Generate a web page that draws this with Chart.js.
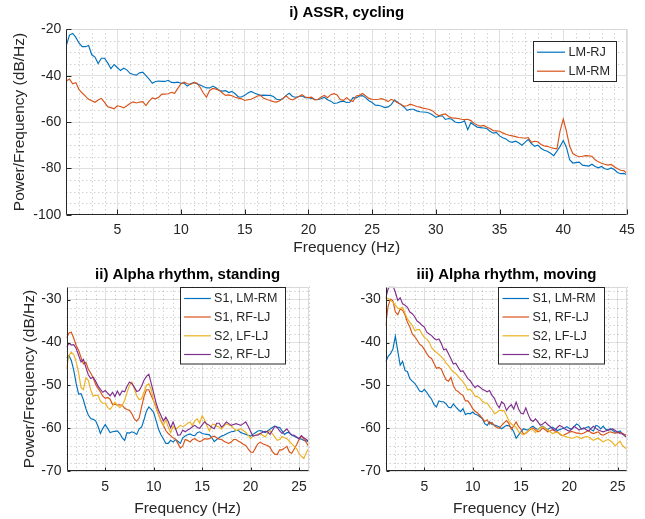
<!DOCTYPE html>
<html><head><meta charset="utf-8">
<script src="https://cdn.jsdelivr.net/npm/chart.js@4.4.0/dist/chart.umd.min.js"></script>
<style>
html,body{margin:0;padding:0;background:#fff;width:645px;height:519px;overflow:hidden}
canvas{position:absolute;display:block}
</style></head><body>
<canvas id="c1" width="645" height="262" style="left:0;top:0"></canvas>
<canvas id="c2" width="322" height="264" style="left:0;top:255px"></canvas>
<canvas id="c3" width="323" height="264" style="left:322px;top:255px"></canvas>
<script>
// ---------------- DATA ----------------
const FREQ_START = 1;
const FREQ_STEP = 0.25;

const TOP_LABELS = ['LM-RJ', 'LM-RM'];
const TOP_X_TICKS = [5, 10, 15, 20, 25, 30, 35, 40, 45];
const TOP_Y_TICKS = [-100, -80, -60, -40, -20];

const TOP_LMRJ = [
  -27, -22.5, -21.8, -23.5,  -26, -27.5, -27.5, -27,  -31, -32, -34.8, -32.5,
  -32.5, -34.5, -37, -35.2,  -36.5, -37.8, -36.8, -37.5,  -39, -39.5, -39.8, -38.8,
  -38.5, -40, -41.5, -43.3,  -42.5, -42.3, -42.5, -42.5,  -42, -42.9, -43, -42.8,
  -43.3, -43.3, -44.5, -43.5,  -43, -43.5, -44, -44.7,  -45.3, -45.3, -44.5, -45.2,
  -46.4, -46.7, -46.5, -47.3,  -46.8, -47.8, -49.2, -49.2,  -48.5, -47.5, -46.8, -47.5,
  -48, -48.5, -48.4, -48.5,  -48.5, -49, -50.2, -50.4,  -50, -48.5, -47.6, -49,
  -49.3, -49, -48.8, -49.5,  -49.5, -49.8, -50.2, -50.3,  -50, -49.3, -50.4, -51,
  -52, -51.8, -51.2, -51,  -51.6, -51.5, -49.5, -49.6,  -48.8, -48.6, -49.6, -50.8,
  -51.6, -52.7, -52.8, -53.2,  -53.8, -53.5, -52.5, -50.5,  -51.5, -52.5, -53.5, -55,
  -54.5, -54.5, -55.2, -55.6,  -55.7, -55.8, -56.2, -57,  -58, -57.5, -57.3, -58.9,
  -58.5, -58.8, -60, -60.3,  -60.2, -59.5, -63.3, -60.3,  -61.3, -62.2, -62.4, -62.6,
  -62.8, -64, -64.8, -64.5,  -66, -66.8, -67.3, -68.4,  -68.8, -68.3, -69, -70,
  -68.8, -67.5, -69.3, -70.5,  -70, -71.3, -72.2, -72.6,  -73.5, -74.5, -72.6, -70.5,
  -68, -71, -76.3, -77.7,  -77.5, -77.3, -78.6, -78.8,  -79, -78.2, -79.2, -79.8,
  -79.2, -80.2, -80.5, -79.8,  -80.5, -81.8, -82.3, -82.2,  -82.8
];
const TOP_LMRM = [
  -42.3, -41.5, -43.5, -43,  -46, -47.5, -48.8, -50.2,  -50.8, -51.5, -50.5, -49.8,
  -51.5, -53.4, -53.8, -54.3,  -53, -53.3, -53.9, -53,  -52, -51.3, -51.8, -51.4,
  -51.2, -52.9, -51, -49.6,  -50, -49.3, -48, -48,  -47.8, -47.2, -47.6, -45.5,
  -43.5, -42.8, -43.5, -43.8,  -43, -43.2, -45, -47.5,  -49.3, -46.4, -45.5, -45.8,
  -46.3, -47.5, -48.5, -48.3,  -48.7, -49.3, -49.7, -50,  -50.7, -50.4, -50.2, -49.5,
  -48.8, -48.5, -49.8, -50.3,  -50.7, -51.2, -51.4, -50.8,  -49.8, -48.7, -50, -50.5,
  -49.8, -49, -48.2, -49.2,  -49.5, -49.3, -50.5, -50.3,  -49.2, -48.5, -49.5, -48.2,
  -47.8, -48.3, -50.3, -50.7,  -49.5, -50.6, -51.2, -48.8,  -48.5, -47.7, -48.8, -49.8,
  -50.2, -50.3, -50.2, -49.9,  -50.4, -51.2, -50.2, -50.8,  -51.7, -52.3, -53.2, -53,
  -52.3, -52.8, -53.3, -53.6,  -54, -54.3, -54.6, -55.2,  -56.5, -57.3, -56.8, -56.5,
  -57.6, -58.2, -58.3, -58.5,  -58.8, -59, -58.8, -59.4,  -60.6, -61.3, -61.8, -61.5,
  -62.3, -62.8, -63.7, -63.8,  -64, -64.7, -65.3, -65.7,  -66, -66.3, -66.7, -66.8,
  -67, -66.7, -68.8, -68.3,  -68.5, -69.7, -70.3, -70.5,  -71, -71.4, -71.6, -63.8,
  -58.7, -64, -70.5, -73.6,  -74.5, -75, -74.8, -74.5,  -74.6, -74.8, -76.3, -77.2,
  -77.8, -78.2, -78.6, -78.3,  -79.3, -80.2, -80.8, -81,  -82.3
];

const ALPHA_LABELS = ['S1, LM-RM', 'S1, RF-LJ', 'S2, LF-LJ', 'S2, RF-LJ'];
const ALPHA_X_TICKS = [5, 10, 15, 20, 25];
const ALPHA_Y_TICKS = [-70, -60, -50, -40, -30];

const STAND_S1_LMRM = [
  -43.6, -43, -44.2, -46.5,  -49.6, -52, -51.9, -53.4,  -55.4, -56.9, -57.7, -57.9,
  -58.2, -59.5, -61.2, -60,  -59.1, -60, -61, -60.8,  -60.7, -60.6, -61.2, -62.2,
  -62.8, -61, -61.1, -60.8,  -61, -61.4, -60.1, -59.7,  -58, -56, -55, -55.6,
  -56.3, -58.2, -60.2, -61.5,  -62.4, -63.5, -63.5, -62.8,  -63.2, -62.6, -63, -63.5,
  -62.2, -61.8, -61.5, -61.3,  -61.6, -61.7, -61, -60.8,  -61.2, -61.3, -61.4, -61.5,
  -62.2, -63.1, -62.6, -62.2,  -61.8, -61.6, -61.3, -61,  -60.8, -60.7, -60.5, -60.5,
  -61, -61.2, -61.4, -61.6,  -61.8, -61.4, -61, -60.6,  -60.5, -60.7, -61, -60.6,
  -60.2, -59.8, -59.5, -59.7,  -59.8, -60.6, -61.4, -61,  -61, -61.6, -61.8, -62.1,
  -62.4, -62.5, -62.8, -62.9,  -63.2
];
const STAND_S1_RFLJ = [
  -39, -37.8, -37.6, -39,  -40.7, -41.8, -43.5, -45,  -44.6, -46.2, -47.1, -48.2,
  -49.7, -50.7, -51.5, -52.5,  -53, -52.8, -53.2, -54.4,  -54.4, -54.6, -54.5, -54.6,
  -55.3, -55.6, -55.8, -56.6,  -57.8, -58.3, -57.6, -55,  -52.6, -51, -51, -52.4,
  -53.6, -55.1, -56.8, -58.2,  -59.3, -60.5, -61.2, -61.7,  -62.2, -62.5, -63.5, -64.6,
  -64.1, -62.6, -62.8, -63.2,  -62.6, -62.4, -62.8, -63.1,  -62.8, -62.4, -62.5, -62.4,
  -62, -61.8, -62.2, -62.5,  -62.6, -63, -63.3, -63.5,  -63.2, -62.6, -62.6, -63,
  -63.3, -63.7, -64, -64.8,  -65.5, -65.6, -64.6, -63.6,  -63.2, -63.6, -63.8, -64,
  -64.4, -65.4, -66, -66.1,  -65, -65, -64.6, -64.2,  -65.5, -65.8, -64.8, -63.8,
  -62.6, -61.8, -62.5, -63.3,  -64.2
];
const STAND_S2_LFLJ = [
  -46.1, -43, -42.3, -42.8,  -44.5, -47, -50.5, -51,  -48.2, -48.8, -51, -52.5,
  -52.3, -52.3, -53.6, -54.2,  -54.1, -55.1, -55.6, -54.8,  -53.9, -54.6, -55.2, -54.6,
  -53.5, -51.6, -50, -49.2,  -50.8, -52.4, -53.3, -53.1,  -51.6, -50, -49.6, -51,
  -53.6, -55.3, -56.8, -58.3,  -59.3, -58, -59.7, -61,  -59.5, -60.3, -59.8, -59.3,
  -59.6, -59.3, -58.8, -58.5,  -59.4, -58.2, -57.8, -58.8,  -57.1, -58, -59.4, -60.6,
  -59.2, -59, -59.5, -59.7,  -60.2, -59.5, -58.9, -59.2,  -59.4, -60, -60.5, -60.3,
  -60.1, -60.5, -60.9, -61.6,  -62.4, -61.8, -61.6, -61.3,  -61.2, -61.6, -62, -61.2,
  -60.5, -61.3, -62, -62.8,  -62.6, -61.9, -62.2, -62.4,  -63, -63.6, -64.2, -64.7,
  -65.9, -66.5, -67, -65.6,  -64.7
];
const STAND_S2_RFLJ = [
  -41.1, -40.2, -40.6, -40.5,  -41.4, -43, -44.5, -43.9,  -45.8, -47.5, -48.4, -48.1,
  -49, -50.1, -50.9, -51.6,  -51.2, -51.8, -52.4, -51.6,  -52.6, -51.3, -52.3, -51.3,
  -51.5, -50.2, -49.2, -49.6,  -50.4, -51.4, -51.2, -50.2,  -48.8, -47.9, -47.4, -49.6,
  -51.8, -54.1, -55.8, -57,  -58.3, -57.4, -58.4, -59.9,  -58.5, -60, -61.6, -61.5,
  -60.4, -60.8, -60.4, -60.1,  -59.6, -59.3, -59.8, -60,  -59.2, -58.5, -59, -59.3,
  -59.8, -60.1, -58.8, -58.8,  -59.7, -59.2, -58.5, -58.9,  -59.3, -59.1, -58.9, -59.1,
  -59.3, -58.9, -58.5, -59.5,  -60.7, -61.8, -61.6, -61.6,  -61.2, -60.9, -60.7, -60.8,
  -61.4, -60.5, -59.5, -59.8,  -60.6, -61.2, -60.6, -60.1,  -61, -61.5, -61.6, -62,
  -62.4, -61.7, -62.2, -62.6,  -63
];

const MOVE_S1_LMRM = [
  -44.6, -43.2, -42.6, -41.5,  -38.5, -42, -45.3, -44.4,  -46.5, -46.8, -48.4, -49,
  -49.5, -50.3, -51.3, -51.5,  -50.9, -51.6, -52.5, -53.2,  -54.5, -55, -53.6, -53.8,
  -53.8, -54.3, -55.1, -55.2,  -54.3, -55, -55.6, -56.1,  -55.4, -56.8, -56.5, -56.6,
  -56.2, -56.7, -56.9, -57.3,  -57.7, -58.9, -59.3, -58.5,  -59.1, -59.2, -59.4, -59.7,
  -60.1, -59.7, -59.3, -59.4,  -59.9, -60.8, -62.3, -61.5,  -60.8, -60.1, -60.3, -60.4,
  -59.8, -59.5, -60, -60.3,  -59.8, -59.5, -59.9, -60.3,  -59.9, -59.7, -60.1, -60.5,
  -60.3, -60.1, -59.9, -59.6,  -60, -60.2, -59.6, -59,  -59.3, -60.2, -60.1, -59.8,
  -59.6, -60.3, -60.6, -59.3,  -59.5, -60.1, -59.5, -60.2,  -60.4, -60.1, -60.5, -60.9,
  -60.8, -60.6, -61.2, -61.5,  -61.6
];
const MOVE_S1_RFLJ = [
  -36, -31.5, -29.9, -30.3,  -32.9, -33.5, -32.2, -32.5,  -33.6, -35.3, -36.4, -38,
  -38.6, -39.4, -40.4, -40.8,  -41.6, -42.6, -43.4, -43.7,  -44.9, -46, -45.8, -46.2,
  -47.5, -48.7, -49, -48.1,  -50, -51.1, -51.4, -52,  -52.3, -53.6, -53.6, -54.4,
  -55.4, -56, -56.4, -57,  -57.6, -58.4, -58, -59,  -58.6, -59.4, -59.8, -60,
  -59.3, -58.7, -58.2, -58.9,  -60.2, -59.4, -58.5, -59.6,  -60.2, -61.3, -61.2, -60.6,
  -60.2, -59.9, -60.4, -60.8,  -60.5, -59.9, -60.3, -60.8,  -60.6, -60.3, -60.6, -60.8,
  -61.3, -61.7, -61.5, -61.2,  -60.9, -60.7, -60.9, -61.1,  -61.1, -61.3, -61.1, -60.8,
  -60.5, -61, -61.2, -61,  -60.8, -61.4, -61.6, -61.3,  -61, -60.8, -61, -61.1,
  -61, -60.9, -61.2, -61.5,  -61.8
];
const MOVE_S2_LFLJ = [
  -29.8, -29.7, -30.2, -30.6,  -31.3, -32, -32.1, -31.8,  -33.2, -34.5, -35.3, -36,
  -37.2, -37, -37, -38,  -38.8, -39.2, -39.9, -41.2,  -41.8, -42.3, -42.8, -43.3,
  -43.9, -44.8, -45.4, -46.2,  -46.9, -47.2, -47.9, -48.6,  -49.1, -50, -51.1, -50.9,
  -51.6, -52.5, -52.6, -53,  -53.7, -54.1, -54.1, -55,  -55.6, -56.6, -56.3, -55.8,
  -55.8, -55.9, -57, -58.3,  -59, -59.4, -59.8, -60.8,  -61.2, -61.5, -61, -60.6,
  -60, -60.4, -61, -60.3,  -59.8, -59.6, -59.9, -60.4,  -60.8, -61.2, -61, -60.9,
  -61.2, -61.6, -61.8, -62,  -62.2, -62.3, -62.2, -61.9,  -62.1, -62.4, -62.1, -61.9,
  -62, -62.4, -62.8, -62.5,  -62.3, -62.7, -63.2, -62.8,  -62.6, -62.9, -63.4, -64.1,
  -63.5, -63, -64, -64.5,  -64.8
];
const MOVE_S2_RFLJ = [
  -29.8, -27.5, -26.7, -26.8,  -28.3, -30.2, -29.6, -31,  -31.3, -31.8, -32.9, -33.3,
  -34, -35, -35.4, -36,  -36.4, -37.6, -38, -38.4,  -39, -39.4, -39.2, -40.2,
  -41.7, -41.5, -42.6, -43.8,  -45, -44.8, -45.8, -46.7,  -46.6, -47.5, -48.4, -48.9,
  -49.8, -50.5, -50, -50.4,  -50.9, -51.2, -51.5, -51.2,  -52.3, -53, -54.4, -55.2,
  -53.8, -54.3, -55.8, -55,  -54.5, -55.5, -53.9, -55.5,  -56.5, -56.6, -55.2, -56.8,
  -58, -58.4, -57.8, -58.5,  -59.3, -59, -58.5, -59.1,  -59.5, -60.1, -60.5, -59.8,
  -59.3, -59.6, -60.1, -60.4,  -60.7, -60.1, -59.5, -59.9,  -60.4, -60.1, -59.9, -60.3,
  -60.6, -60, -59.5, -60,  -60.4, -60.6, -60.8, -60.6,  -60.4, -60.3, -60.1, -60.5,
  -60.9, -61.2, -61.3, -61.8,  -62.2
];

const COLORS = ['#0072BD', '#D95319', '#EDB120', '#7E2F8E'];

// ---------------- RENDERING ----------------
const FONT = "'Liberation Sans', Arial, Helvetica, sans-serif";
const TXT = '#262626';

function pts(arr) { return arr.map((v, i) => ({ x: FREQ_START + i * FREQ_STEP, y: v })); }

const matlabAxes = {
  id: 'matlabAxes',
  beforeDatasetsDraw(chart, args, o) {
    const { ctx, chartArea: a, scales: { x, y } } = chart;
    ctx.save();
    ctx.strokeStyle = 'rgba(38,38,38,0.3)';
    ctx.lineWidth = 1;
    ctx.setLineDash([1, 3]);
    for (let v = Math.ceil(x.min / o.minorX) * o.minorX; v <= x.max + 1e-9; v += o.minorX) {
      if (o.xTicks.includes(v) || Math.abs(v - x.min) < 1e-9) continue;
      const px = Math.round(x.getPixelForValue(v)) + 0.5;
      ctx.beginPath(); ctx.moveTo(px, a.top); ctx.lineTo(px, a.bottom); ctx.stroke();
    }
    for (let v = Math.ceil(y.min / o.minorY) * o.minorY; v <= y.max + 1e-9; v += o.minorY) {
      if (o.yTicks.includes(v) || Math.abs(v - y.min) < 1e-9) continue;
      const py = Math.round(y.getPixelForValue(v)) + 0.5;
      ctx.beginPath(); ctx.moveTo(a.left, py); ctx.lineTo(a.right, py); ctx.stroke();
    }
    ctx.restore();
  },
  afterDatasetsDraw(chart, args, o) {
    const { ctx, chartArea: a, scales: { x, y } } = chart;
    const L = Math.round(a.left) + 0.5, R = Math.round(a.right) - 0.5;
    const T = Math.round(a.top) + 0.5, B = Math.round(a.bottom) - 0.5;
    ctx.save();
    ctx.lineWidth = 1;
    ctx.strokeStyle = '#d9d9d9';
    ctx.beginPath(); ctx.moveTo(L, T); ctx.lineTo(R, T); ctx.lineTo(R, B); ctx.stroke();
    ctx.strokeStyle = TXT;
    ctx.beginPath(); ctx.moveTo(L, T); ctx.lineTo(L, B); ctx.lineTo(R, B); ctx.stroke();
    // inward tick marks
    ctx.beginPath();
    o.xTicks.forEach(v => { const px = Math.round(x.getPixelForValue(v)) + 0.5; ctx.moveTo(px, B); ctx.lineTo(px, B - o.tickLen); });
    o.yTicks.forEach(v => { const py = Math.round(y.getPixelForValue(v)) + 0.5; ctx.moveTo(L, py); ctx.lineTo(L + o.tickLen, py); });
    ctx.stroke();
    // legend box
    const g = o.legend;
    const bx = Math.round(a.right - g.right - g.width) + 0.5;
    const by = Math.round(a.top + g.top) + 0.5;
    ctx.fillStyle = '#fff';
    ctx.fillRect(bx, by, g.width, g.height);
    ctx.strokeStyle = TXT;
    ctx.strokeRect(bx, by, g.width, g.height);
    ctx.font = g.fontSize + 'px ' + FONT;
    ctx.textBaseline = 'middle';
    ctx.textAlign = 'left';
    chart.data.datasets.forEach((ds, i) => {
      const yy = by + g.rows[i];
      ctx.strokeStyle = ds.borderColor; ctx.lineWidth = 1.2;
      ctx.beginPath(); ctx.moveTo(bx + g.l0, yy); ctx.lineTo(bx + g.l1, yy); ctx.stroke();
      ctx.fillStyle = TXT;
      ctx.fillText(ds.label, bx + g.tx, yy + 0.5);
    });
    ctx.restore();
  }
};

function makeChart(id, cfg) {
  const n = cfg.series.length;
  const datasets = cfg.series.map((s, i) => ({
    label: cfg.labels[i], data: pts(s), borderColor: COLORS[i], backgroundColor: COLORS[i],
    borderWidth: 1.15, pointRadius: 0, tension: 0, fill: false, order: n - 1 - i
  }));
  const tickFont = { family: FONT, size: 14 };
  const titleFont = { family: FONT, size: 15.5 };
  return new Chart(document.getElementById(id), {
    type: 'line',
    data: { datasets },
    plugins: [matlabAxes],
    options: {
      responsive: false, animation: false, events: [],
      layout: { padding: cfg.pad },
      scales: {
        x: {
          type: 'linear', min: cfg.xMin, max: cfg.xMax,
          afterBuildTicks: s => { s.ticks = cfg.xTicks.map(v => ({ value: v })); },
          afterFit: s => { s.height = cfg.xHeight; },
          grid: { color: 'rgba(38,38,38,0.14)', lineWidth: 1, drawTicks: false },
          border: { display: false },
          ticks: { font: tickFont, color: TXT, padding: 7, maxRotation: 0, autoSkip: false },
          title: { display: true, text: 'Frequency (Hz)', font: titleFont, color: TXT, padding: { top: 0, bottom: cfg.xTitlePad } }
        },
        y: {
          type: 'linear', min: cfg.yMin, max: cfg.yMax,
          afterBuildTicks: s => { s.ticks = cfg.yTicks.map(v => ({ value: v })); },
          afterFit: s => { s.width = cfg.yWidth; },
          grid: { color: 'rgba(38,38,38,0.14)', lineWidth: 1, drawTicks: false },
          border: { display: false },
          ticks: { font: tickFont, color: TXT, padding: 5, autoSkip: false },
          title: { display: cfg.yTitle, text: 'Power/Frequency (dB/Hz)', font: titleFont, color: TXT, padding: { top: cfg.yTitlePad, bottom: 0 } }
        }
      },
      plugins: {
        legend: { display: false },
        tooltip: { enabled: false },
        title: {
          display: true, text: cfg.title, fullSize: false, color: '#000',
          font: { family: FONT, size: 15, weight: 'bold' }, padding: cfg.titlePad
        },
        matlabAxes: {
          xTicks: cfg.xTicks, yTicks: cfg.yTicks, minorX: cfg.minorX, minorY: cfg.minorY,
          tickLen: cfg.tickLen, legend: cfg.legend
        }
      }
    }
  });
}

makeChart('c1', {
  title: 'i) ASSR, cycling', labels: TOP_LABELS, series: [TOP_LMRJ, TOP_LMRM],
  xMin: 1, xMax: 45, yMin: -100, yMax: -20, xTicks: TOP_X_TICKS, yTicks: TOP_Y_TICKS,
  minorX: 1, minorY: 5, tickLen: 5,
  pad: { left: 0, right: 18, top: 0, bottom: 2 },
  xHeight: 45.3, xTitlePad: 2.7, yWidth: 66.3, yTitle: true, yTitlePad: 10.7,
  titlePad: { top: 3.5, bottom: 7.8 },
  legend: { right: 11, top: 12, width: 83, height: 40, rows: [10.7, 29.7], l0: 3.5, l1: 31.5, tx: 35, fontSize: 12.7 }
});
makeChart('c2', {
  title: 'ii) Alpha rhythm, standing', labels: ALPHA_LABELS,
  series: [STAND_S1_LMRM, STAND_S1_RFLJ, STAND_S2_LFLJ, STAND_S2_RFLJ],
  xMin: 1, xMax: 26, yMin: -70, yMax: -27, xTicks: ALPHA_X_TICKS, yTicks: ALPHA_Y_TICKS,
  minorX: 1, minorY: 2, tickLen: 3,
  pad: { left: 0, right: 13.3, top: 0, bottom: 0 },
  xHeight: 47.7, xTitlePad: 0.7, yWidth: 66.5, yTitle: true, yTitlePad: 20.7,
  titlePad: { top: 11, bottom: 2.7 },
  legend: { right: 23.7, top: 0.6, width: 105, height: 76.5, rows: [11, 29.5, 48.3, 67], l0: 3.6, l1: 30.3, tx: 33.6, fontSize: 12.5 }
});
makeChart('c3', {
  title: 'iii) Alpha rhythm, moving', labels: ALPHA_LABELS,
  series: [MOVE_S1_LMRM, MOVE_S1_RFLJ, MOVE_S2_LFLJ, MOVE_S2_RFLJ],
  xMin: 1, xMax: 26, yMin: -70, yMax: -27, xTicks: ALPHA_X_TICKS, yTicks: ALPHA_Y_TICKS,
  minorX: 1, minorY: 2, tickLen: 3,
  pad: { left: 0, right: 17.7, top: 0, bottom: 0 },
  xHeight: 47.7, xTitlePad: 0.7, yWidth: 63.7, yTitle: false, yTitlePad: 0,
  titlePad: { top: 11, bottom: 2.7 },
  legend: { right: 23.3, top: 0.6, width: 106, height: 76.5, rows: [11, 29.5, 48.3, 67], l0: 4, l1: 30.6, tx: 34, fontSize: 12.5 }
});
</script>
</body></html>
